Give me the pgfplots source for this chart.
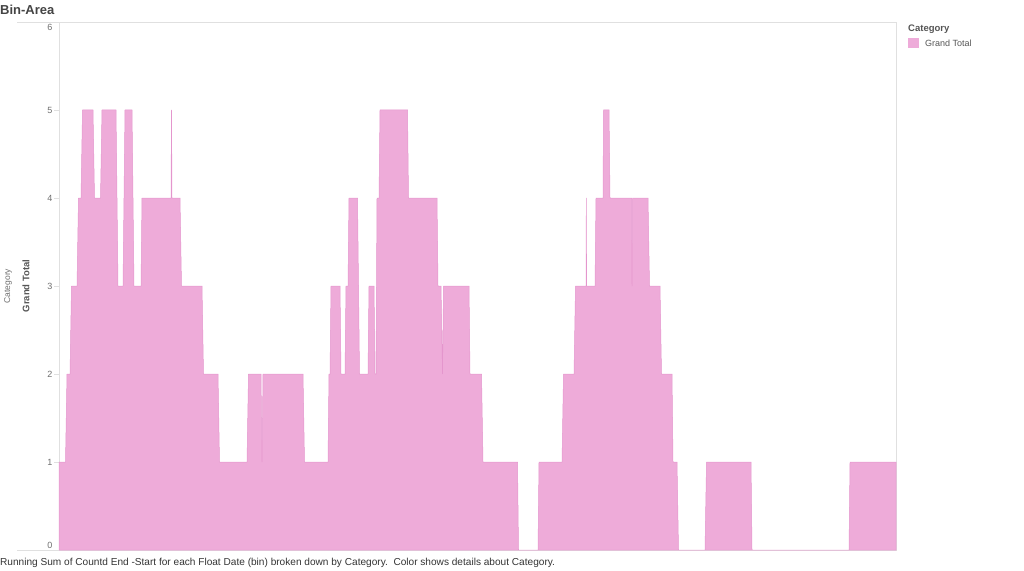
\documentclass[border=0pt]{standalone}
\usepackage{pgfplots}
\pgfplotsset{compat=1.18}
\usepackage{fontspec}
\setmainfont{Liberation Sans}

\definecolor{areafill}{RGB}{238,171,217}
\definecolor{areaedge}{RGB}{228,150,205}
\definecolor{framegray}{RGB}{224,224,224}
\definecolor{ticktext}{RGB}{110,110,110}
\definecolor{labtext}{RGB}{85,85,85}

\begin{document}
\begin{tikzpicture}[x=1pt,y=1pt]
\useasboundingbox (0,0) rectangle (1024,570);

\begin{axis}[
    at={(59pt,20pt)}, anchor=south west,
    scale only axis,
    width=837pt, height=528pt,
    xmin=59, xmax=896,
    ymin=0, ymax=6,
    xtick=\empty,
    ytick={0,1,2,3,4,5,6},
    yticklabels={\raisebox{5pt}[\height][\depth]{0},1,2,3,4,5,\raisebox{-5pt}[\height][\depth]{6}},
    ytick pos=left,
    tick align=outside,
    major tick length=5pt,
    tick style={framegray, line width=0.6pt},
    axis line style={framegray, line width=0.8pt},
    yticklabel style={font=\fontsize{9}{10}\selectfont, text=ticktext, inner sep=1.5pt},
    clip=false,
]

% Grand Total (bin area)
\addplot[fill=areafill, draw=areaedge, line width=0.5pt] coordinates {
    (59,1) (65.5,1) (67,2) (70,2) (71.5,3) (77,3) (78.5,4) (81,4) (82.5,5)
    (93,5) (94.5,4) (100.5,4) (102,5) (116,5) (118,3) (123,3) (125,5)
    (132,5) (133,4) (134,3) (141,3) (142,4) (171,4) (171.5,5) (172,4)
    (180,4) (181.5,3) (202,3) (203.5,2) (218,2) (219.5,1) (247,1) (248.5,2)
    (261,2) (262,1) (263,2) (303,2) (304.5,1) (328,1) (329,2) (330,2)
    (331,3) (340,3) (341,2) (345,2) (346,3) (348,3) (349,4) (357.5,4)
    (359.5,2) (368,2) (369,3) (374,3) (375,2) (376,2) (377,4) (379,4)
    (380,5) (407.5,5) (408.5,4) (437,4) (438,3) (441,3) (442.5,2) (443.5,3)
    (469,3) (470,2) (481.5,2) (483,1) (517.5,1) (518.5,0) (538,0) (539,1)
    (562,1) (563.5,2) (574,2) (575.5,3) (586,3) (586.3,4) (586.6,3) (595,3)
    (596,4) (603,4) (603.5,5) (609,5) (610,4) (631.5,4) (632,3) (632.5,4)
    (648,4) (649.5,3) (660,3) (661.5,2) (672,2) (673,1) (677,1) (678.5,0)
    (705,0) (706.5,1) (751,1) (752,0) (849,0) (850,1) (896,1)
} \closedcycle;

\end{axis}

% frame lines running into the label column
\draw[framegray, line width=0.8pt] (17,20) -- (59,20);
\draw[framegray, line width=0.8pt] (17,548) -- (59,548);

% title
\node[anchor=west, inner sep=0pt, text=labtext!80!black, font=\fontsize{13}{15}\selectfont\bfseries] at (0,560) {Bin-Area};

% y labels
\node[rotate=90, inner sep=0pt, text=ticktext, font=\fontsize{8.5}{10}\selectfont] at (8,284) {Category};
\node[rotate=90, inner sep=0pt, text=labtext, font=\fontsize{9.5}{11}\selectfont\bfseries] at (26,284) {Grand Total};

% legend
\node[anchor=west, inner sep=0pt, text=labtext, font=\fontsize{9.5}{11}\selectfont\bfseries] at (908,541) {Category};
\fill[areafill] (908,522) rectangle (919,532);
\node[anchor=west, inner sep=0pt, text=labtext, font=\fontsize{9}{10}\selectfont] at (925,527) {Grand Total};

% footer
\node[anchor=west, inner sep=0pt, text=black!80, font=\fontsize{10.1}{12}\selectfont] at (0,7) {Running Sum of Countd End -Start for each Float Date (bin) broken down by Category.\ \ Color shows details about Category.};
\end{tikzpicture}
\end{document}
